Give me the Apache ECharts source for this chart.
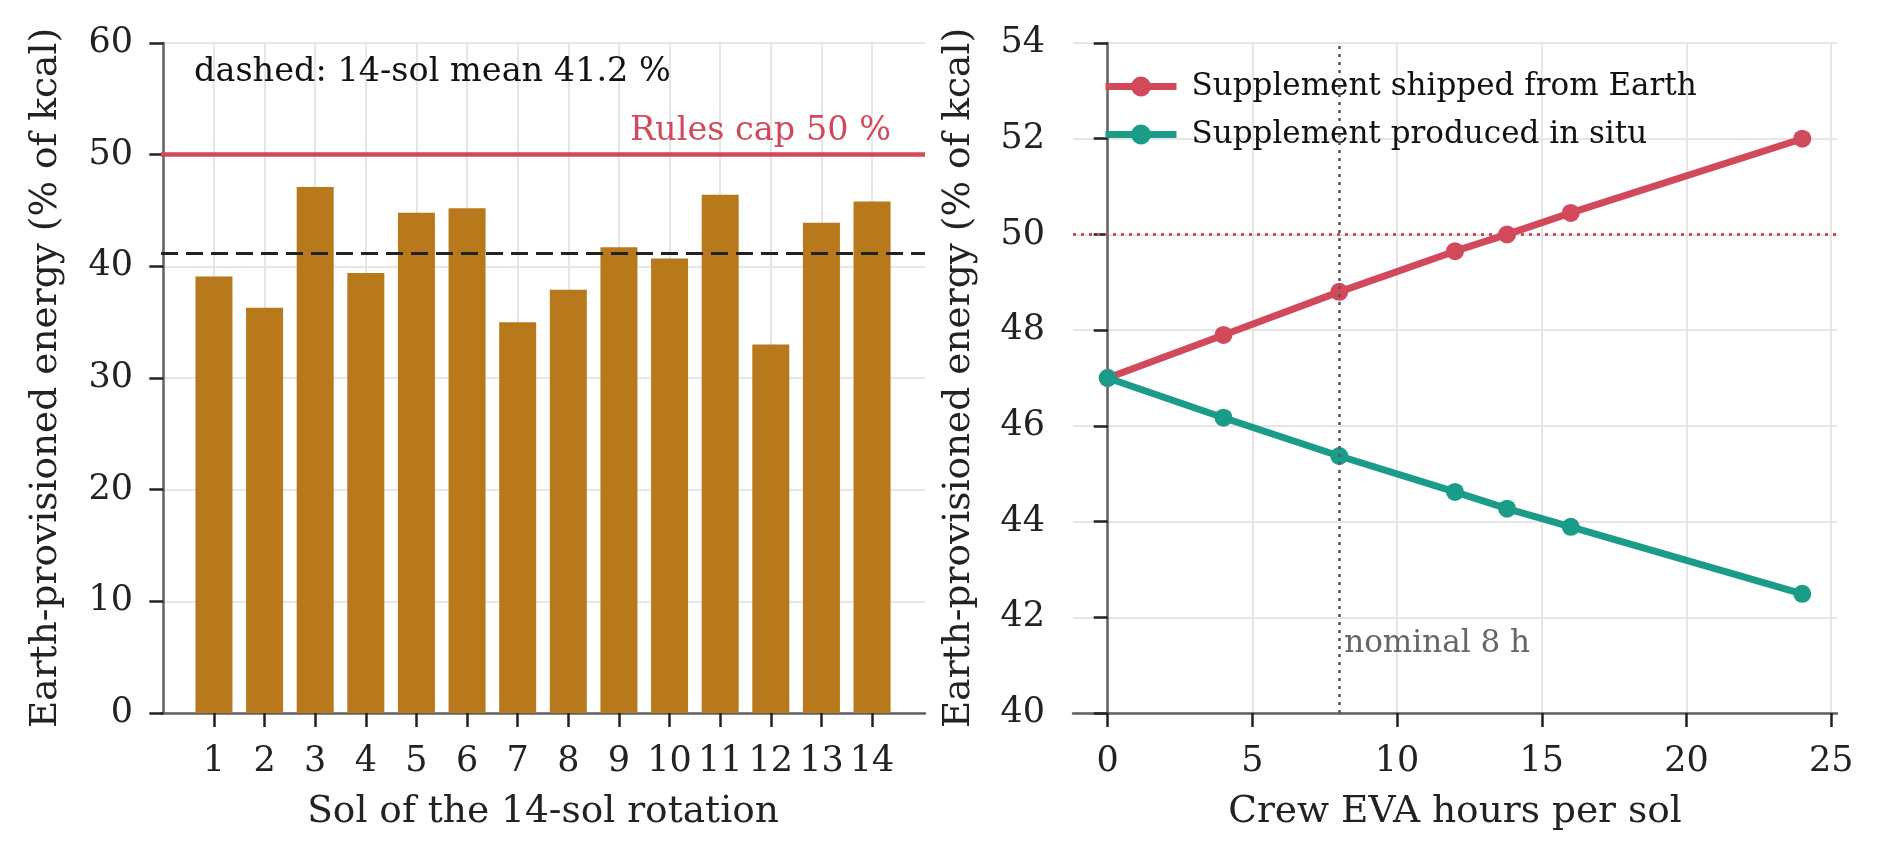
<!DOCTYPE html>
<html>
<head>
<meta charset="utf-8">
<title>Earth-provisioned energy</title>
<script src="https://cdn.jsdelivr.net/npm/echarts@6.0.0/dist/echarts.min.js"></script>
<style>
	html, body { margin: 0; padding: 0; background: #fff; }
	#chart_main { width: 1882px; height: 861px; }
</style>
</head>
<body>
<div id="chart_main"></div>
<script>
// 左图：每个sol的地球供给能量
var solList = [1, 2, 3, 4, 5, 6, 7, 8, 9, 10, 11, 12, 13, 14];
var solEnergy = [39.1, 36.3, 47.1, 39.4, 44.8, 45.2, 35.0, 37.9, 41.7, 40.7, 46.4, 33.0, 43.9, 45.8];
var rulesCap = 50;

// 右图：EVA小时数
var evaHours = [0, 4, 8, 12, 13.8, 16, 24];
var shippedEnergy = [47.0, 47.9, 48.8, 49.65, 50.0, 50.45, 52.0];
var insituEnergy = [47.0, 46.17, 45.37, 44.62, 44.27, 43.89, 42.49];
var nominalHours = 8;

// 刻度
var solTicks = [1, 2, 3, 4, 5, 6, 7, 8, 9, 10, 11, 12, 13, 14];
var evaTicks = [0, 5, 10, 15, 20, 25];

var fontName = "DejaVu Serif";
var colorBar = "#b8791c";
var colorRed = "#d1495b";
var colorTeal = "#1a9c89";
var colorGrid = "#e6e6e6";

// 平均值
function getMean(arr) {
	var sum = 0;
	for (var i = 0; i < arr.length; i++) {
		sum += arr[i];
	}
	return sum / arr.length;
}
var solMean = getMean(solEnergy);

function pairs(xs, ys) {
	var out = [];
	for (var i = 0; i < xs.length; i++) {
		out.push([xs[i], ys[i]]);
	}
	return out;
}

// 公共坐标轴样式
function axisBase(extra) {
	var base = {
		type: "value",
		axisLine: { show: true, lineStyle: { color: "#606060", width: 2.5 } },
		axisTick: { show: true, length: 14, lineStyle: { color: "#222", width: 2.5 } },
		axisLabel: { color: "#222", fontFamily: fontName, fontSize: 35 },
		splitLine: { show: true, lineStyle: { color: colorGrid, width: 2 } },
		nameTextStyle: { color: "#222", fontFamily: fontName, fontSize: 37.5 },
		nameLocation: "middle"
	};
	for (var k in extra) {
		if (typeof extra[k] == "object" && base[k] && !Array.isArray(extra[k])) {
			for (var j in extra[k]) base[k][j] = extra[k][j];
		} else {
			base[k] = extra[k];
		}
	}
	return base;
}

var myChart = echarts.init(document.getElementById("chart_main"), null, { renderer: "canvas" });

var option = {
	backgroundColor: "#fff",
	animation: false,
	textStyle: { fontFamily: fontName },
	title: {
		text: "dashed: 14-sol mean " + solMean.toFixed(1) + " %",
		left: 189,
		top: 50,
		textStyle: { fontFamily: fontName, fontSize: 33.5, fontWeight: "normal", color: "#111" }
	},
	legend: {
		orient: "vertical",
		left: 1097,
		top: 66,
		itemWidth: 71,
		itemHeight: 25,
		itemGap: 17,
		lineStyle: { width: 7 },
		data: ["Supplement shipped from Earth", "Supplement produced in situ"],
		textStyle: { fontFamily: fontName, fontSize: 31, color: "#111", padding: [0, 0, 0, 10] }
	},
	grid: [
		{ left: 161, top: 43, width: 764, height: 670 },
		{ left: 1073, top: 43, width: 764, height: 670 }
	],
	xAxis: [
		axisBase({
			gridIndex: 0,
			min: -0.046,
			max: 15.046,
			name: "Sol of the 14-sol rotation",
			nameGap: 80,
			axisTick: { customValues: solTicks },
			axisLabel: { customValues: solTicks, margin: 31 }
		}),
		axisBase({
			gridIndex: 1,
			min: -1.2,
			max: 25.2,
			name: "Crew EVA hours per sol",
			nameGap: 80,
			axisTick: { customValues: evaTicks },
			axisLabel: { customValues: evaTicks, margin: 31 }
		})
	],
	yAxis: [
		axisBase({
			gridIndex: 0,
			min: 0,
			max: 60,
			interval: 10,
			name: "Earth-provisioned energy (% of kcal)",
			nameGap: 96,
			axisLabel: { margin: 28 }
		}),
		axisBase({
			gridIndex: 1,
			min: 40,
			max: 54,
			interval: 2,
			name: "Earth-provisioned energy (% of kcal)",
			nameGap: 95,
			axisLabel: { margin: 28 }
		})
	],
	series: [
		{
			name: "sol energy",
			type: "bar",
			xAxisIndex: 0,
			yAxisIndex: 0,
			barWidth: 37,
			itemStyle: { color: colorBar },
			data: pairs(solList, solEnergy),
			markLine: {
				silent: true,
				symbol: "none",
				data: [
					{
						yAxis: rulesCap,
						lineStyle: { color: colorRed, width: 4.5, type: "solid" },
						label: {
							show: true,
							position: "insideEndTop",
							distance: [34, 6],
							formatter: "Rules cap " + rulesCap + " %",
							color: colorRed,
							fontFamily: fontName,
							fontSize: 33.5
						}
					},
					{
						yAxis: solMean,
						lineStyle: { color: "#222", width: 3, type: [17, 8] },
						label: { show: false }
					}
				]
			}
		},
		{
			name: "Supplement shipped from Earth",
			type: "line",
			xAxisIndex: 1,
			yAxisIndex: 1,
			symbol: "circle",
			symbolSize: 18,
			lineStyle: { color: colorRed, width: 7 },
			itemStyle: { color: colorRed },
			data: pairs(evaHours, shippedEnergy),
			z: 3,
			markLine: {
				silent: true,
				symbol: "none",
				data: [
					{
						yAxis: rulesCap,
						lineStyle: { color: colorRed, width: 3, type: [3, 5] },
						label: { show: false }
					},
					{
						xAxis: nominalHours,
						lineStyle: { color: "#555", width: 2.5, type: [3, 5] },
						label: { show: false }
					}
				]
			}
		},
		{
			name: "Supplement produced in situ",
			type: "line",
			xAxisIndex: 1,
			yAxisIndex: 1,
			symbol: "circle",
			symbolSize: 18,
			lineStyle: { color: colorTeal, width: 7 },
			itemStyle: { color: colorTeal },
			data: pairs(evaHours, insituEnergy),
			z: 4,
			markPoint: {
				silent: true,
				symbol: "circle",
				symbolSize: 0,
				data: [{ coord: [nominalHours, 41.45] }],
				label: {
					show: true,
					position: "right",
					distance: 5,
					formatter: "nominal " + nominalHours + " h",
					color: "#666",
					fontFamily: fontName,
					fontSize: 31
				}
			}
		}
	]
};
myChart.setOption(option, true);
</script>
</body>
</html>
